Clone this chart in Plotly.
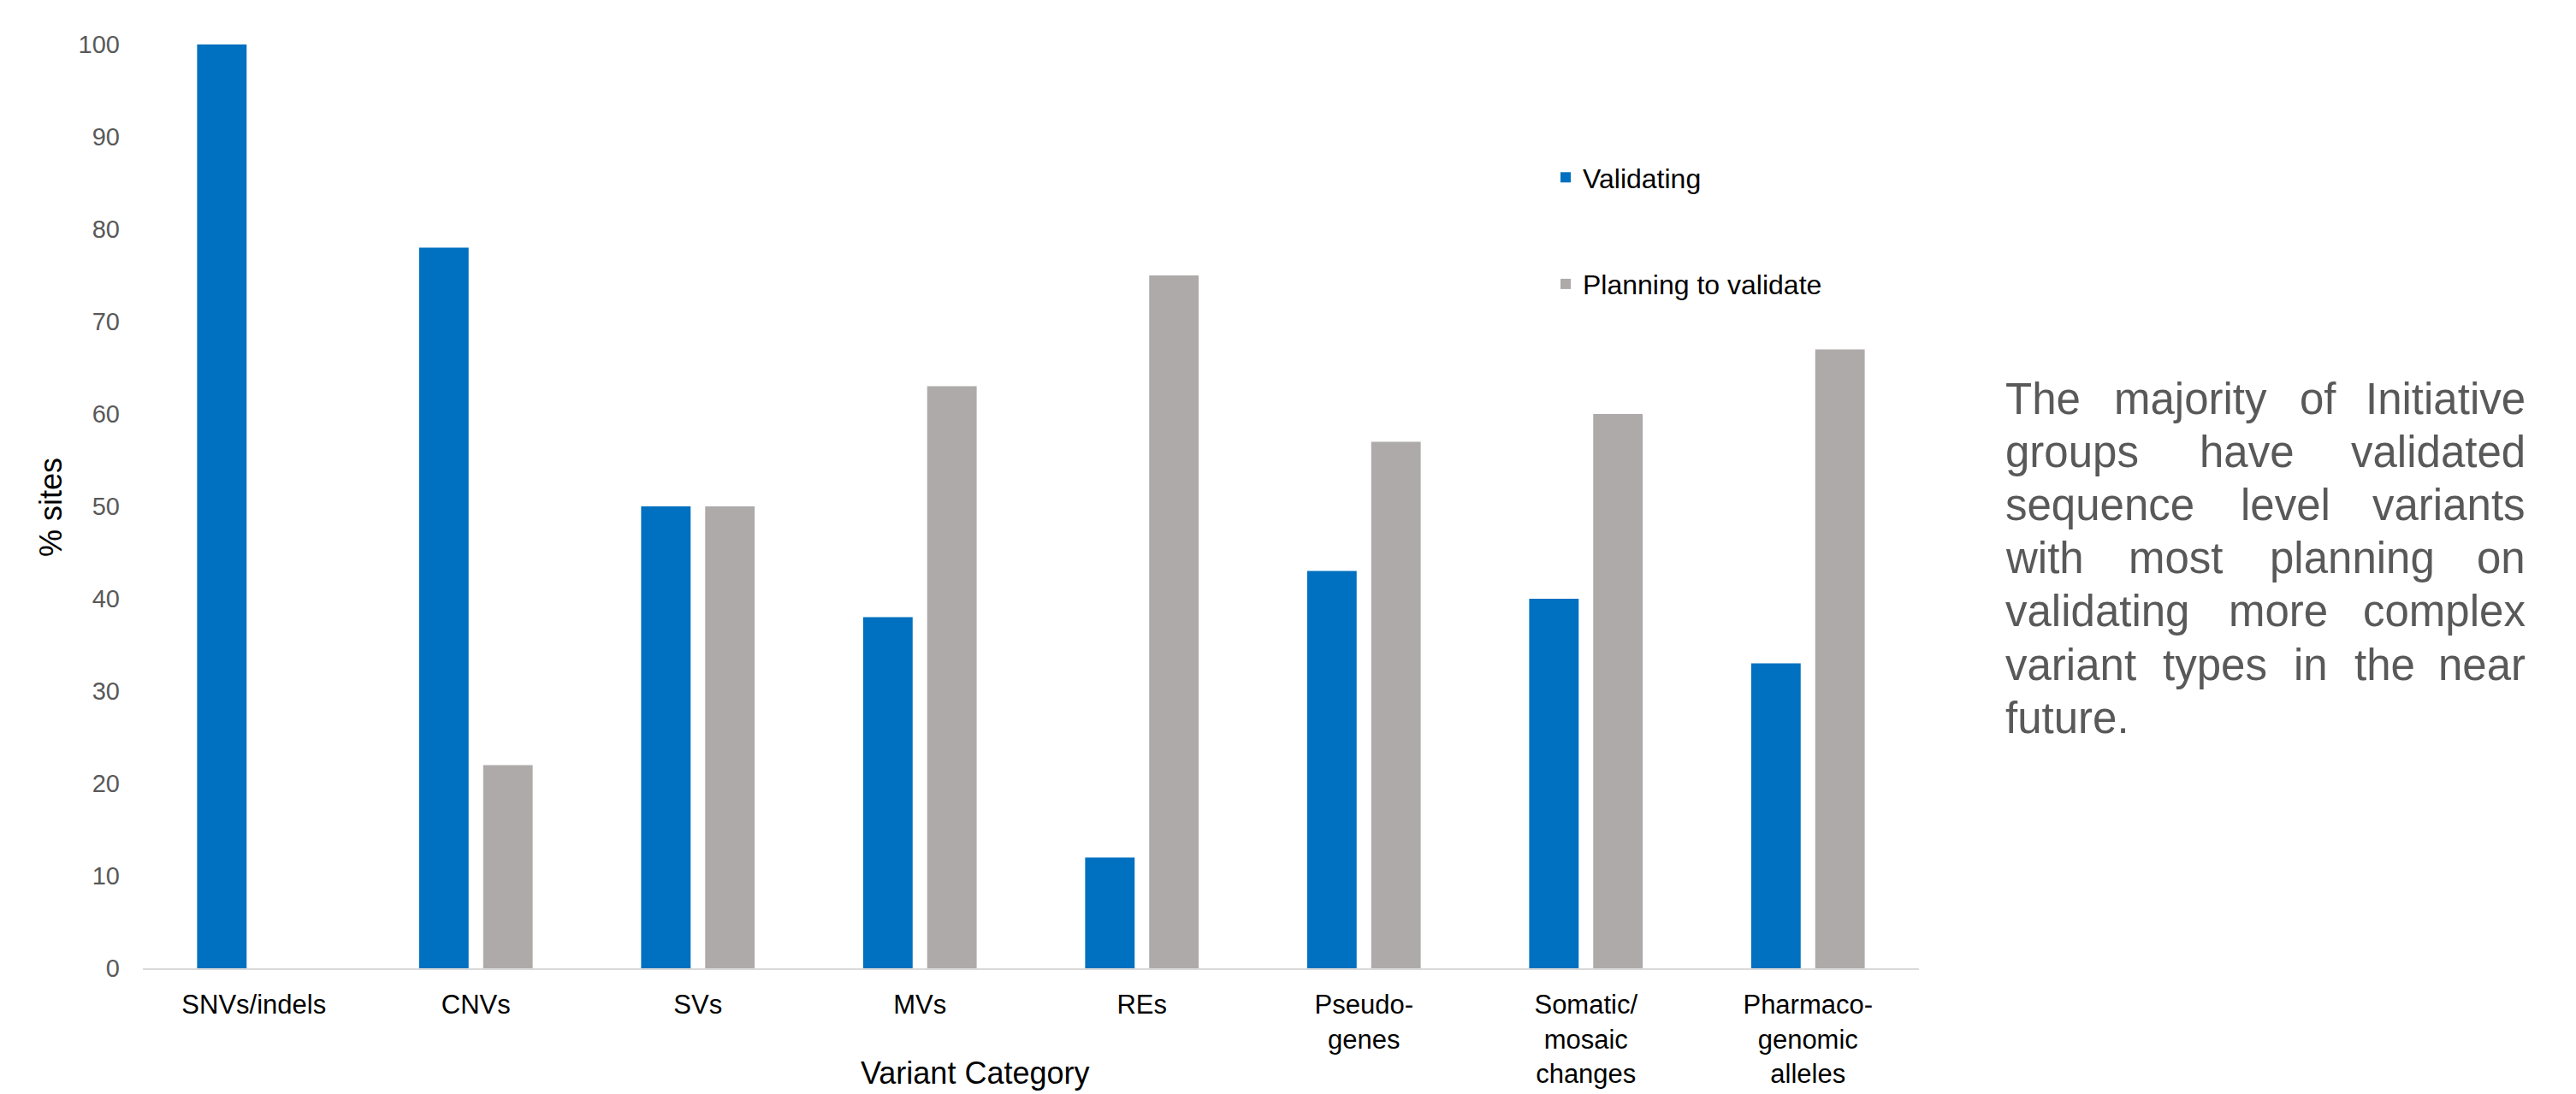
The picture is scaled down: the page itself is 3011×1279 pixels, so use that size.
import plotly.graph_objects as go

categories = ["SNVs/indels", "CNVs", "SVs", "MVs", "REs",
              "Pseudo-<br>genes", "Somatic/<br>mosaic<br>changes", "Pharmaco-<br>genomic<br>alleles"]
validating = [100, 78, 50, 38, 12, 43, 40, 33]
planning = [0, 22, 50, 63, 75, 57, 60, 67]
y_ticks = [0, 10, 20, 30, 40, 50, 60, 70, 80, 90, 100]

note_lines = [
    "The majority of Initiative",
    "groups have validated",
    "sequence level variants",
    "with most planning on",
    "validating more complex",
    "variant types in the near",
    "future.",
]

W, H = 3011, 1279
L, R, T, B = 167, 2243, 52, 1132
FONT = "Liberation Sans, Arial, Helvetica, sans-serif"

def px2x(px):
    return (px - L) / (R - L)

def py2y(py):
    return (B - py) / (B - T)

fig = go.Figure()
fig.add_trace(go.Bar(x=categories, y=validating, name="Validating",
                     marker=dict(color="#0070C0", line=dict(width=0)),
                     legendgroup="a"))
fig.add_trace(go.Bar(x=categories, y=planning, name="Planning to validate",
                     marker=dict(color="#AEAAAA", line=dict(width=0)),
                     legendgroup="b"))

annotations = []
annotations.append(dict(text="Variant Category", x=px2x(1139), y=py2y(1254),
                        xref="paper", yref="paper", showarrow=False,
                        xanchor="center", yanchor="middle",
                        font=dict(family=FONT, size=36, color="#000000")))
annotations.append(dict(text="% sites", x=px2x(59), y=py2y(593),
                        xref="paper", yref="paper", showarrow=False, textangle=-90,
                        xanchor="center", yanchor="middle",
                        font=dict(family=FONT, size=36, color="#000000")))

# Justified paragraph on the right
CW = {'a': .556, 'b': .556, 'c': .5, 'd': .556, 'e': .556, 'f': .278, 'g': .556, 'h': .556,
      'i': .222, 'j': .222, 'k': .5, 'l': .222, 'm': .833, 'n': .556, 'o': .556, 'p': .556,
      'q': .556, 'r': .333, 's': .5, 't': .278, 'u': .556, 'v': .5, 'w': .722, 'x': .5,
      'y': .5, 'z': .5, 'T': .611, 'I': .278, '.': .278}
NS = 51
left_px, right_px = 2342, 2954
base0, lstep = 483, 62.2
for li, line in enumerate(note_lines):
    words = line.split(" ")
    base = base0 + li * lstep
    ymid = py2y(base - 0.33 * NS)
    widths = [sum(CW.get(c, .556) for c in w) * NS for w in words]
    last = li == len(note_lines) - 1
    if last or len(words) == 1:
        annotations.append(dict(text=line, x=px2x(left_px), y=ymid, xref="paper", yref="paper",
                                showarrow=False, xanchor="left", yanchor="middle",
                                font=dict(family=FONT, size=NS, color="#595959")))
        continue
    gap = (right_px - left_px - sum(widths)) / (len(words) - 1)
    xpos = left_px
    for wi, w in enumerate(words):
        if wi == len(words) - 1:
            annotations.append(dict(text=w, x=px2x(right_px), y=ymid, xref="paper", yref="paper",
                                    showarrow=False, xanchor="right", yanchor="middle",
                                    font=dict(family=FONT, size=NS, color="#595959")))
        else:
            annotations.append(dict(text=w, x=px2x(xpos), y=ymid, xref="paper", yref="paper",
                                    showarrow=False, xanchor="left", yanchor="middle",
                                    font=dict(family=FONT, size=NS, color="#595959")))
        xpos += widths[wi] + gap

fig.update_layout(
    width=W, height=H,
    margin=dict(l=L, r=W - R, t=T, b=H - B, pad=0, autoexpand=False),
    paper_bgcolor="white", plot_bgcolor="white",
    barmode="group", bargap=0.423, bargroupgap=0.227,
    font=dict(family=FONT),
    showlegend=True,
    legend=dict(x=px2x(1810), y=py2y(180), xanchor="left", yanchor="top",
                font=dict(family=FONT, size=32, color="#000000"),
                tracegroupgap=80, bgcolor="rgba(0,0,0,0)", traceorder="grouped"),
    annotations=annotations,
)
fig.update_xaxes(showline=True, linecolor="#D9D9D9", linewidth=2, ticks="",
                 tickfont=dict(family=FONT, size=31, color="#000000"),
                 ticklabelstandoff=14, showgrid=False, zeroline=False, automargin=False)
fig.update_yaxes(range=[0, 100], tickvals=y_ticks, showgrid=False, zeroline=False,
                 showline=False, ticks="",
                 tickfont=dict(family=FONT, size=29, color="#595959"),
                 ticklabelstandoff=26, automargin=False)

fig.write_html("out.html")
